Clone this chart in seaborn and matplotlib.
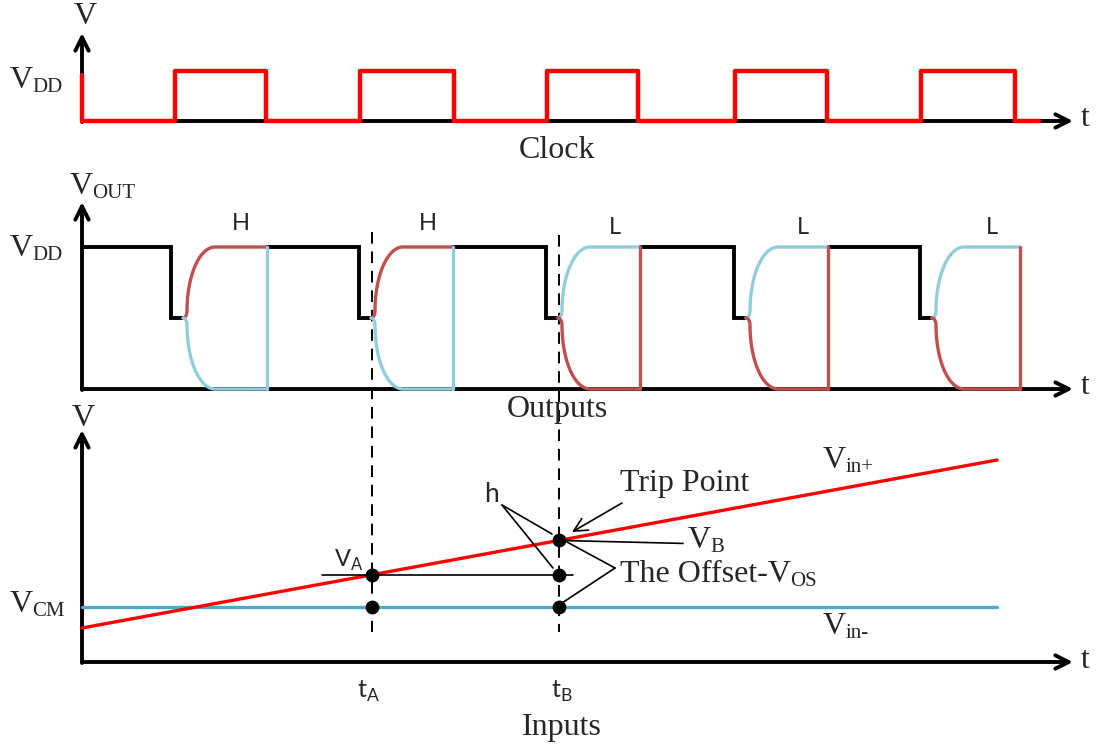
import numpy as np
import pandas as pd
import seaborn as sns
import matplotlib.pyplot as plt

# time marks (px along the shared time axis)
clock_rise = [175, 360, 547, 735, 921]
clock_fall = [266, 454, 638, 827, 1015]
out_drop = [171, 359, 546, 734, 920]
out_fall = [267, 453, 640, 828, 1020]
out_state = ["H", "H", "L", "L", "L"]
t_A, t_B = 372, 559

# voltage levels (px, screen y)
clk_low, clk_high, clk_start = 121, 71, 75
out_low, out_mid, out_high = 389, 318, 247
in_base = 662
v_cm = 607
vin_plus_x = [82, 997]
vin_plus_y = [628, 460]

RED = "#ff0000"
ORED = "#c0504d"
OBLUE = "#92cddc"
CBLUE = "#4bacc6"

sns.set_theme(style="white")
plt.rcParams["font.family"] = ["Liberation Serif", "DejaVu Serif"]
plt.rcParams["mathtext.fontset"] = "custom"
plt.rcParams["mathtext.rm"] = "Liberation Serif"
plt.rcParams["mathtext.sf"] = "Lato"

fig = plt.figure(figsize=(10.96, 7.51), dpi=100)
ax = fig.add_axes([0, 0, 1, 1])
ax.set_xlim(0, 1096)
ax.set_ylim(751, 0)
ax.axis("off")

x0 = 82
x_end = 1073


def axis_arrow(x1, y1, x2, y2):
    ax.annotate("", xy=(x2, y2), xytext=(x1, y1),
                arrowprops=dict(arrowstyle="->", lw=2.8, color="black",
                                mutation_scale=24, shrinkA=0, shrinkB=0),
                zorder=2)


def sub_label(x, y, main, sub, size=23, subsize=15):
    # main letter plus a lowered, smaller subscript written as plain text
    t = ax.text(x, y, main, fontsize=size, ha="left", va="center")
    fig.canvas.draw()
    bb = t.get_window_extent()
    ax.text(bb.x1 - 1, y + 7, sub, fontsize=subsize, ha="left", va="center")


# axes
for base, top in [(clk_low, 33), (out_low, 202), (in_base, 430)]:
    axis_arrow(x0, base + 1, x0, top)
    axis_arrow(x0, base, x_end, base)
    ax.text(1085, base - 2, "t", fontsize=23, ha="center", va="center")

# clock
cx = [x0, x0]
cy = [clk_start, clk_low]
for r, f in zip(clock_rise, clock_fall):
    cx += [r, r, f, f]
    cy += [clk_low, clk_high, clk_high, clk_low]
cx.append(1039)
cy.append(clk_low)
clk = pd.DataFrame({"t": cx, "v": cy})
sns.lineplot(data=clk, x="t", y="v", sort=False, estimator=None, color=RED,
             lw=3.2, ax=ax, zorder=5)

# outputs
theta = np.linspace(0, np.pi / 2, 40)
phi = np.linspace(0, np.pi / 2, 10)
prev = x0
for d, f, s in zip(out_drop, out_fall, out_state):
    start = d + 12
    top = d + 44
    ax.plot([prev, d, d, start], [out_high, out_high, out_mid, out_mid],
            color="black", lw=2.8, solid_joinstyle="miter", zorder=3)
    up_c, dn_c = (ORED, OBLUE) if s == "H" else (OBLUE, ORED)
    cs = start + 4
    hx = start + 4 * np.sin(phi)
    hy = 7 * (1 - np.cos(phi))
    ux = top - (top - cs) * np.cos(theta)
    uy = (out_mid - 7) - (out_mid - 7 - out_high) * np.sin(theta)
    dy = (out_mid + 7) + (out_low - out_mid - 7) * np.sin(theta)
    ax.plot(np.r_[hx, ux, f], np.r_[out_mid - hy, uy, out_high],
            color=up_c, lw=2.4, zorder=4)
    ax.plot(np.r_[hx, ux, f], np.r_[out_mid + hy, dy, out_low],
            color=dn_c, lw=2.4, zorder=4)
    ax.plot([f, f], [out_high, out_low], color=dn_c, lw=2.4, zorder=5)
    ax.text((top + f) / 2, 223 if s == "H" else 227, s, family="Lato",
            fontsize=17, ha="center", va="center")
    prev = f

# inputs
sns.lineplot(x=[x0, 997], y=[v_cm, v_cm], color=CBLUE, lw=2.4, ax=ax)
sns.lineplot(x=vin_plus_x, y=vin_plus_y, color=RED, lw=2.4, ax=ax)

slope = (vin_plus_y[1] - vin_plus_y[0]) / (vin_plus_x[1] - vin_plus_x[0])
v_A = vin_plus_y[0] + slope * (t_A - x0)
v_B = vin_plus_y[0] + slope * (t_B - x0)

for t, top in [(t_A, 232), (t_B, 235)]:
    ax.plot([t, t], [top, 632], color="black", lw=1.4, ls=(0, (6, 4)), zorder=2)

ax.plot([322, 573], [v_A, v_A], color="black", lw=1.2, zorder=3)
ax.plot([t_B, 683], [v_B, v_B + 3], color="black", lw=1.2, zorder=3)
ax.scatter([t_A, t_B, t_A, t_B, t_B], [v_A, v_A, v_cm, v_cm, v_B],
           s=80, color="black", zorder=6)

# annotation leaders
ax.plot([502, 552], [505, 534], color="black", lw=1.2)
ax.plot([502, 553], [505, 568], color="black", lw=1.2)
ax.plot([615, 567], [568, 542], color="black", lw=1.2)
ax.plot([615, 562], [568, 603], color="black", lw=1.2)
ax.annotate("", xy=(572, 532), xytext=(622, 503),
            arrowprops=dict(arrowstyle="->", lw=1.2, color="black",
                            mutation_scale=24, shrinkA=0, shrinkB=0))

# labels
big = 23
ax.text(85, 17, "V", fontsize=big, ha="center", va="center")
sub_label(10, 80, "V", "DD")
ax.text(557, 150, "Clock", fontsize=big, ha="center", va="center")
sub_label(70, 187, "V", "OUT")
sub_label(10, 248, "V", "DD")
ax.text(557, 410, "Outputs", fontsize=big, ha="center", va="center")
ax.text(83, 418, "V", fontsize=big, ha="center", va="center")
sub_label(10, 605, "V", "CM")
sub_label(823, 461, "V", "in+")
sub_label(823, 626, "V", "in-")
ax.text(620, 484, "Trip Point", fontsize=big, ha="left", va="center")
t_off = ax.text(620, 575, "The Offset-V", fontsize=big, ha="left", va="center")
fig.canvas.draw()
ax.text(t_off.get_window_extent().x1 - 1, 582, "OS", fontsize=15, ha="left",
        va="center")
sub_label(688, 540, "V", "B")
ax.text(334, 560, r"V$_{\mathsf{A}}$", family="Lato", fontsize=17, ha="left",
        va="center")
ax.text(491, 494, "h", family="Lato", fontsize=19, ha="center", va="center")
ax.text(357, 691, r"t$_{\mathsf{A}}$", family="Lato", fontsize=18, ha="left",
        va="center")
ax.text(551, 691, r"t$_{\mathsf{B}}$", family="Lato", fontsize=18, ha="left",
        va="center")
ax.text(562, 728, "Inputs", fontsize=big, ha="center", va="center")

fig.savefig("out.png", dpi=100)
